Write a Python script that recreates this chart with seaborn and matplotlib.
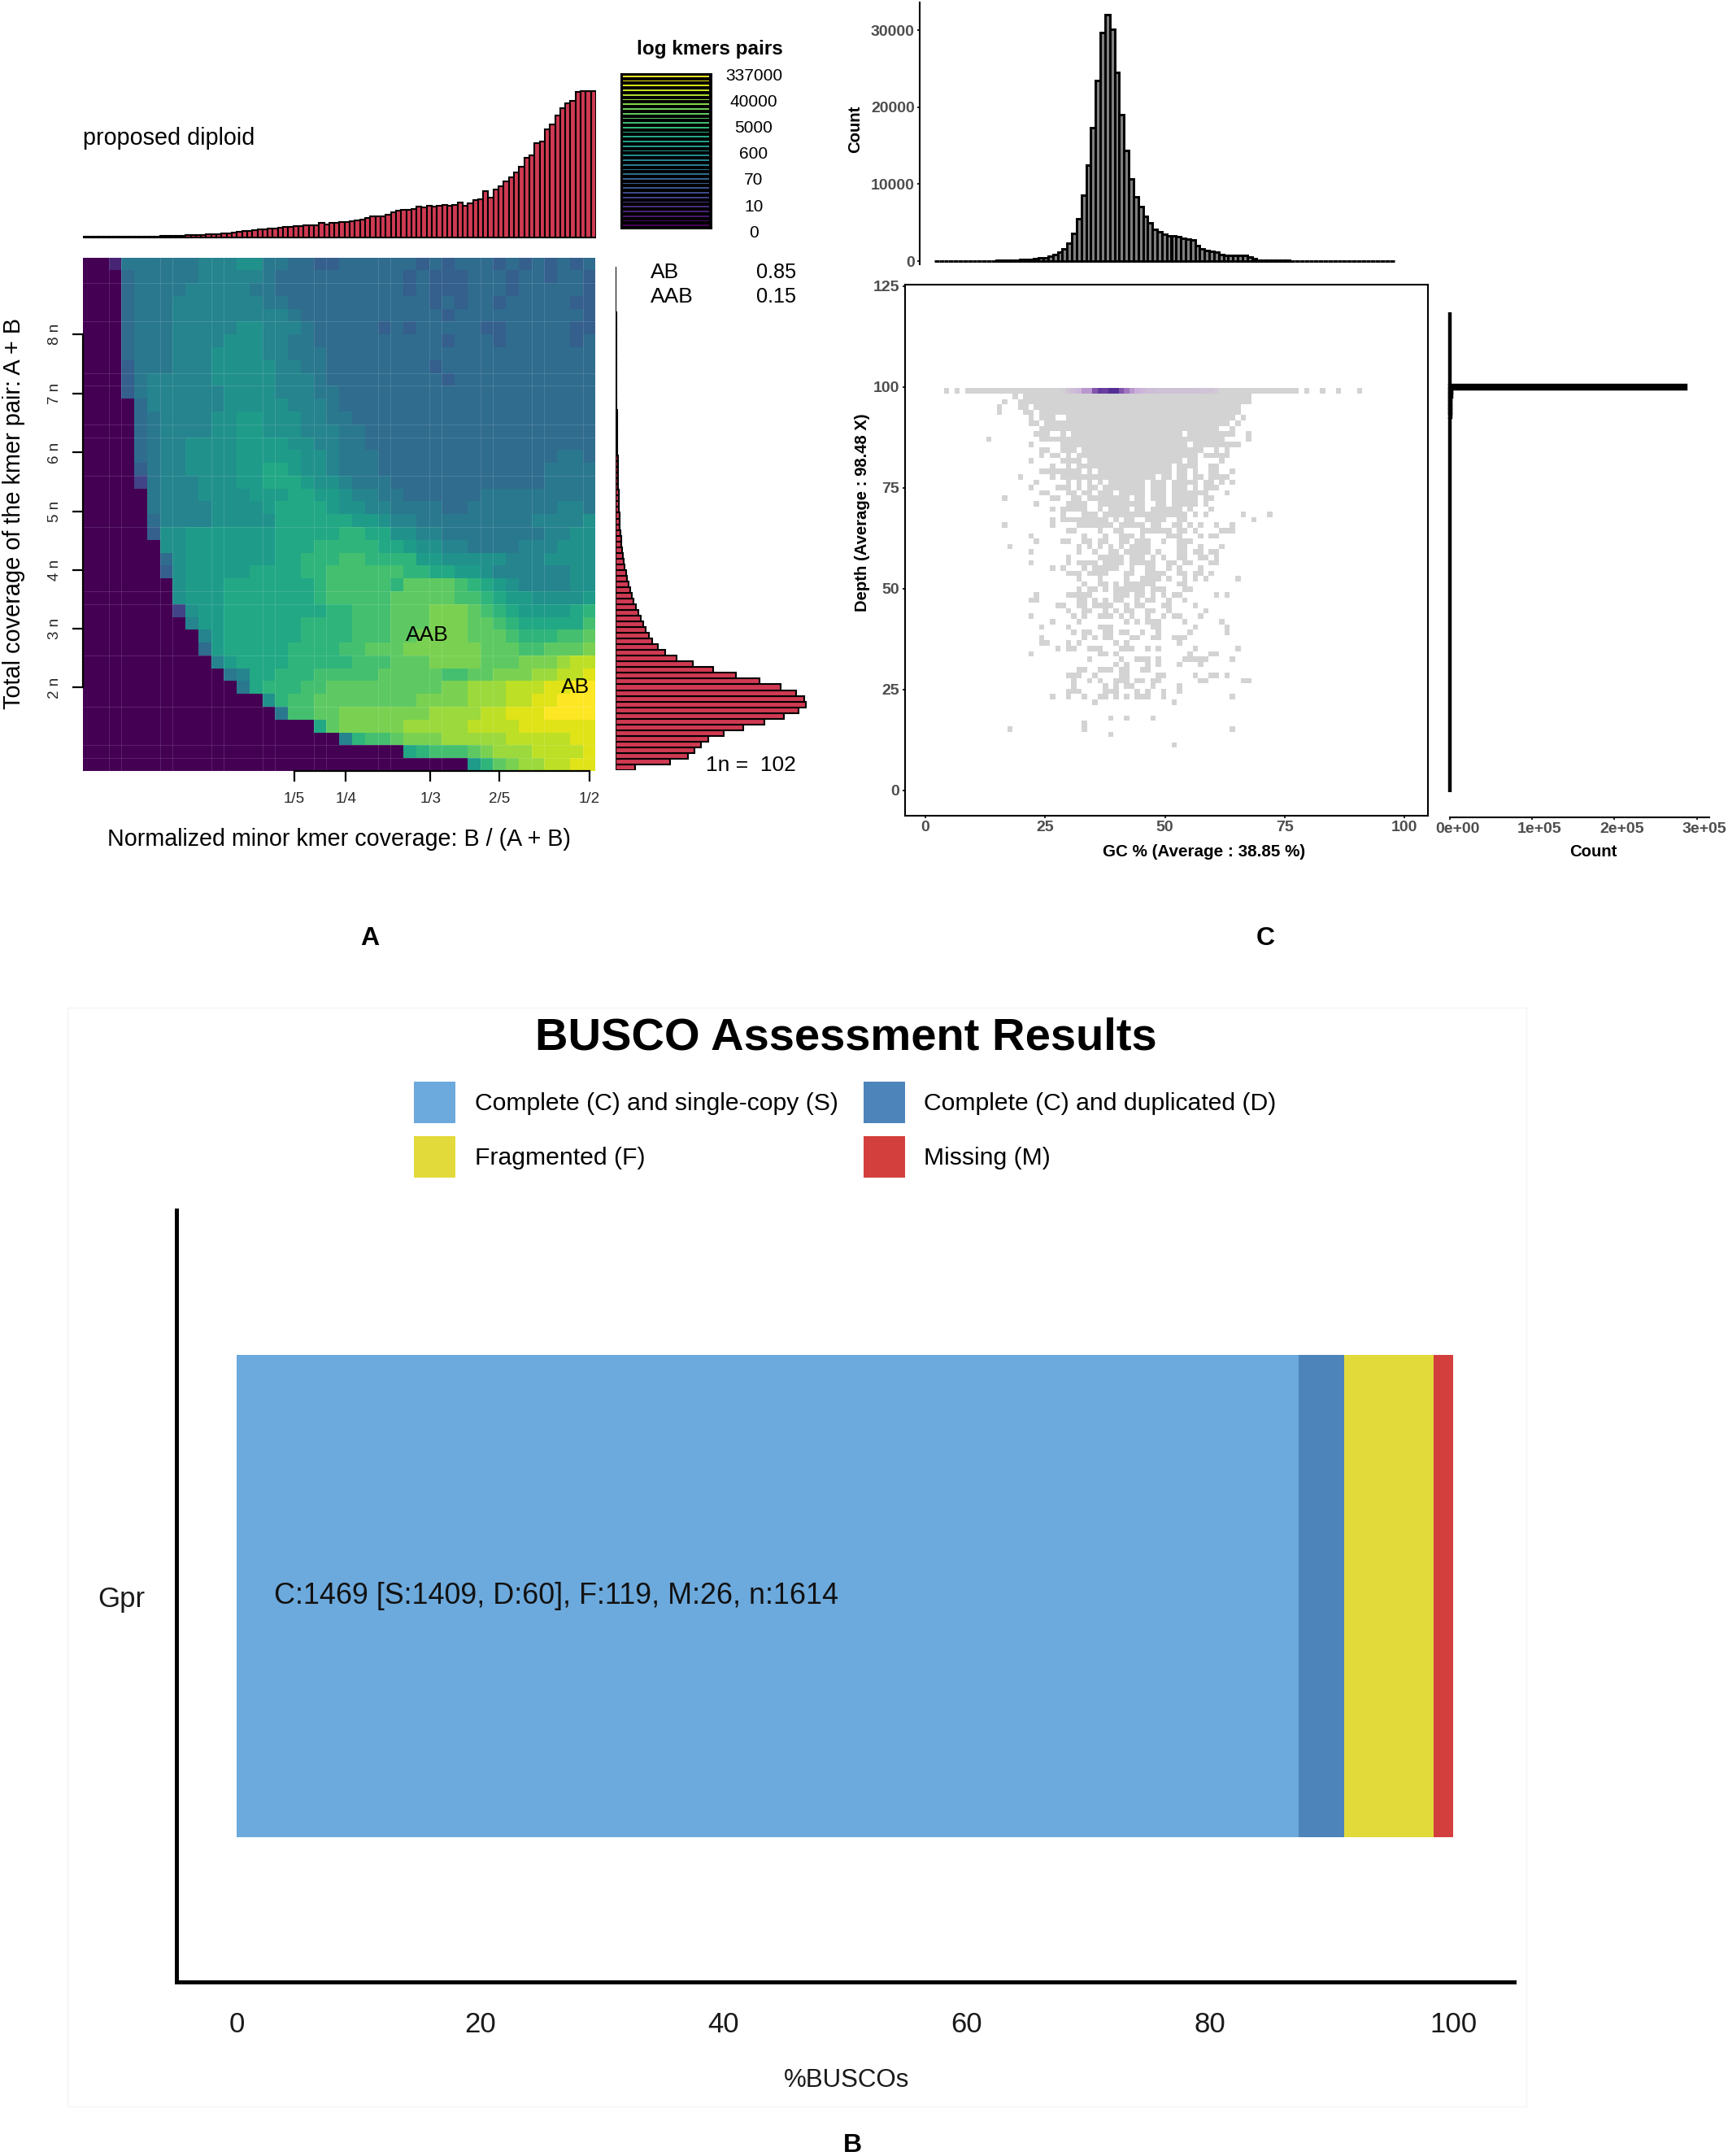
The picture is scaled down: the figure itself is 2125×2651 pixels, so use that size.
import numpy as np
import pandas as pd
import seaborn as sns
import matplotlib
matplotlib.use("Agg")
import matplotlib.pyplot as plt
from matplotlib.colors import LinearSegmentedColormap
from matplotlib.patches import Rectangle
from matplotlib.transforms import ScaledTranslation

# ---------- Panel A data ----------
LEVELS = "abcdefghijklmnopqrstu"   # a = bottom of viridis ... u = top (steps of 0.05)
smudge_rows = [
 "aaciiiiiij jjkkiihhgg hhhhhhghgh hhghghghgh",
 "aaahiiiiij jjjjihhhhh hhhhhghggg hhhghhghhg",
 "aaahiiiijj jjjiihhhhh hhhhhghggg hhhghhhhhg",
 "aaahiiijjj jjjjiihhhh hhhhhhhghg hhghhhhhgg",
 "aaahiiijjj jjjjjjihhh hhhhhhhhgh hhhhhhhhhg",
 "aaahiiijjj jjkkjjjihh hhhghghhhh hgghhhhhgg",
 "aaahiiijjj jkkkjjiihh hhhhhhhhgh hhghhhhhgh",
 "aaahiiijjj kkkkjjiiih hhhhhhhhhh hhhhhhhhhh",
 "aaagiiijjj kkkkkjjiih hhhhhhhghh hhhhhhhhhh",
 "aaagijjjjj kkkkkjjjih hhhhhhhhgh hhhhhhhhhh",
 "aaagijjjjj jkkkkjjjii hhhhhhhhhh hhhhhhhhhh",
 "aaaahjjjjj jkkkkkjjji hhhhhhhhhh hhhhhhhhhh",
 "aaaahijjjj kkllkkkjji ihhhhhhhhh hhhhhhhhhh",
 "aaaahijjjj kkllkkkjjj iihhhhhhhh hhhhhhhhhh",
 "aaaahijjkk kkllllkkjj iihhhhhhhh hhhhhhhhhh",
 "aaaahijjkk kklllllkkj iiihhhhhhh hhhhhhhiih",
 "aaaagijjkk kkllmmlkkj iiihhhhhhh hhhhhhiiii",
 "aaaaeijjjk kkllmmmlkk jiiihhhhhh hhhhhhiiii",
 "aaaaaijjjk kkklllmmll kjjiihhhhh hiiiiiiiii",
 "aaaaaijjjj kkkklmmmml kkjjiiiihh iiiiiiijji",
 "aaaaahjjjj kkkkkmmmmm mllkjjiiii iiiiijjjjk",
 "aaaaagkkll lllllmmmmm nnmmkkjjii iiiiiijjkk",
 "aaaaaakkll lllllmmmnn nnnmmlkkjj iiiijjjkkk",
 "aaaaaahkll lllllmmnnn oonnnnllkk kkkjjjkkkk",
 "aaaaaagkll lllmmmmnno ooooonnmml lkjjjjjjkk",
 "aaaaaaakll lmmmmmmmno oooonppppo nmlkjjjjkk",
 "aaaaaaakll lmmmmmmmno oooopppppo onmllkkkkl",
 "aaaaaaaekl lmmmmmmmmn nooopppqqq ponmllllmn",
 "aaaaaaaajl lmmmmmmnnn nooopppqqq pponmmmmmo",
 "aaaaaaaaaj lmmmmmmnnn noooppqqqq ppponnnoop",
 "aaaaaaaaah lmmmmmnnnn oopppqqqqq qpppoopppq",
 "aaaaaaaaaa jlmmmmnnnn nooopppqqq qpppqqqrss",
 "aaaaaaaaaa aijmmnnnoo ooopppppoo ppqqqrrsst",
 "aaaaaaaaaa aaimnnnoop ppppppppqq rrrsssttuu",
 "aaaaaaaaaa aaaaknoopp ppppppqqqq rrrssttuuu",
 "aaaaaaaaaa aaaaaioopp qqqqqqqrrr rsstttuuuu",
 "aaaaaaaaaa aaaaaaaamp qqqqqrrrrr sssstttttt",
 "aaaaaaaaaa aaaaaaaaaa jnoopqqqrr rrrssssstt",
 "aaaaaaaaaa aaaaaaaaaa aaaaamnooo pqrrrsssst",
 "aaaaaaaaaa aaaaaaaaaa aaaaaaaaaa lnpqrrsstt",
]
minor_cov_hist = [
 1,1,1,1,1,1,1,1,1,2, 2,2,2,3,3,4,4,4,5,6, 7,8,9,9,10,11,12,13,15,18,
 20,22,24,26,28,30,31,33,36,37, 38,40,41,43,44,45,52,47,52,53,
 55,56,59,62,64,70,76,78,76,84, 92,97,100,102,104,114,110,116,112,116,
 118,115,120,128,115,125,137,140,170,145, 175,187,205,222,238,260,292,302,347,352,
 397,417,448,475,495,503,537,538,539,540]
total_cov_hist = [
 71,200,266,291,313,340,398,470,549,620,673,700,696,665,607,529,444,358,283,225,183,154,
 135,121,111,100,92,82,73,66,58,52,48,42,37,33,30,27,24,21,19,16,14,13,
 13,12,11.5,11,10,9.5,9,8.5,8,7.5,7,6.5,6,5.5,5,5,4.5,4,4,3.5,3.5,3,3,2.5,2.5,2,2,2,
 1.5,1.5,1.5,1,1,1,1,1,.5,.5,.5,.5,.5,.5,.5,.5]
smudge_legend_labels = ["337000", "40000", "5000", "600", "70", "10", "0"]
minor_tick_labels = ["1/5", "1/4", "1/3", "2/5", "1/2"]
minor_tick_cells = [16.5, 20.5, 27.1, 32.5, 39.5]
n_tick_labels = ["2 n", "3 n", "4 n", "5 n", "6 n", "7 n", "8 n"]
n_tick_cells = [33.5, 28.9, 24.35, 19.8, 15.2, 10.6, 6.0]
grid_cols = [2,3,6,7,10,11,14,15,18,19,23,24,27,28,31,32,35,36,39]
grid_rows = [2,5,9,10,13,14,17,21,26,27,31,35,38,39]

# ---------- Panel C data ----------
gc_hist = [
 40,40,40,40,40,40,40,40,40,40,50,50,50,60,70,80,100,130,170,210,260,310,370,450,620,880,
 1130,1590,2360,3630,5540,8570,12500,17300,23450,29700,32000,30100,24500,19000,14350,10700,
 8360,7120,5820,5000,4130,3800,3530,3280,3250,3170,3000,2820,2750,2000,1590,1380,1270,1160,
 880,740,740,780,780,740,530,280,150,120,100,90,80,70,60,50,50,50,40,40,40,40,40,40,40,40,
 40,40,40,40,40,40,40,40,40,40,40]
depth_hist = [
 3,0,0,0,0,0,0,0,0,0,0,1,0,0,1,2,1,1,1,0,0,1,3,4,3,4,4,5,4,5,
 5,4,4,5,5,6,5,6,6,5,6,7,6,7,8,7,8,9,9,10,11,10,12,13,12,14,15,16,17,18,
 20,22,24,26,28,30,33,36,40,44,48,52,57,62,68,74,80,88,96,105,115,126,138,150,165,180,200,220,250,300,
 340,380,450,600,800,1000,1200,1400,1500,1500,287000,0,0,0,0,0,0,0,0,0,0,0,0,0,0,0,0,0,0]
depth_tick = [0, 25, 50, 75, 100, 125]
gc_tick = [0, 25, 50, 75, 100]
count_tick = [0, 100000, 200000, 300000]
count_tick_labels = ["0e+00", "1e+05", "2e+05", "3e+05"]
tile_rows = [
 "0,2,4-66,68,71,74,78","13,15-57","11,14-57","10,14,15,17-55","10,15,16,18-55",
 "16,18-20,23-54,56","16,17,19-53,55","18-51,54","17-19,22,24-44,46-54,57","8,18-52,57",
 "16,22-45,47-55","18,19,22-24,26-48,51,53","18,20,21,23,25-47,49-53","16,22-25,27-44,46,47,52",
 "20,23,25-42,44-47,50,51","18-25,27,29-42,44,45,47,50,51,54","14,20,22-39,41,42,44,45,47,48,50-53",
 "17,23,25,27,29,31-37,39-41,43-47,49,50,52,54","16,21-23,25,27,28,30-37,39-41,43-45,47,49-51",
 "18,19,23,24,26,27,29-31,33-37,39-41,43-49,53","11,20,21,24,25,27-34,36,37,39-41,43-47,49,50",
 "17,23-26,29-37,40,41,43-47,49","20,22-26,29,31-34,36,37,39-44,46,50","22,26-28,30-45,47,49,56,61",
 "20,22-30,32,34,35,38-41,44,45,58","11,20,25-31,33-37,39,40,43,44,46,48,51,54",
 "23,24,29,32,33,37,38,39-42,44,45,47,52-54","16,26,30,33-35,37,42-44,48,50,51",
 "17,22,23,26,27,29,30,33,34,36-38,41,44-46","12,25,27,29,31,33,35-38,44,45,48,52",
 "16,25,28,31,32,34-38,40,44,45,47,48,50,51","23,29-33,35-37,39,41,44,45,48,49,51",
 "16,23,25-28,30-33,35-39,42,43,45,46,50,51","20,22,26,28-32,35,38,39,42,44,48",
 "23-25,27-30,34,35,38-41,44,45,47,48,50","25,29,34,37-40,42,45,47,49,55",
 "26,29,30,32,34-39,44,45","25,27,28,30,32-37,39-41,45,46",
 "17,23-27,32-34,36,37,39,41,43,44,51,53","16,17,25,26,28,30,32,33,36,38,39,42,45",
 "21,22,25,26,28-31,34,36,37,41,42,47","23,26,27,30,32,34,35,38,39,42,49",
 "16,24,26,29-31,33,35,38,41,43,44,48","20,25,34,36,38-40,45,52","18,23,29-31,39,40,47,53",
 "24,26,27,30,31,33,34,37,40,46,53","18,26,28,30,31,35,36,39,40,43-45","18,19,23,25,32,34,44",
 "21,23,24,27-29,33-35,38,40,47,55","16,29,30,32,46,50,51","27,33,36-38,40,45-49,54",
 "32,34,38,40,44,48","25,26,29-31,33,34,37,38","23-25,28,33,34,40,41,47,50,51,53",
 "24,27,29,32-34,36,37,39,40,48,49,56,57","24,30,32,34,35,39,44","23-25,30-32,36,38,41,44",
 "20,23,26,29,30,32,34,36-38,41,54","28,43","","","31,34,39","26","12,26,54","31","","43"]
peak_row_shade = {22:.03,23:.10,24:.15,25:.20,26:.35,27:.35,28:.65,29:.85,30:.80,31:.95,32:.95,33:.65,
 34:.50,35:.35,36:.25,37:.20,38:.15,39:.15,40:.12,41:.12,42:.12,43:.12,44:.12,45:.12,46:.12,47:.12,
 48:.10,49:.10,50:.10,51:.06}

# ---------- Panel B data ----------
busco_labels = ["Complete (C) and single-copy (S)", "Complete (C) and duplicated (D)", "Fragmented (F)", "Missing (M)"]
busco_counts = [1409, 60, 119, 26]
busco_colors = ["#6ca9dc", "#4d84b9", "#e2da3a", "#d33f3d"]
busco_sample = ["Gpr"]
busco_ticks = [0, 20, 40, 60, 80, 100]
busco_note = "C:1469 [S:1409, D:60], F:119, M:26, n:1614"

# ---------- figure ----------
W, H = 2125, 2651
sns.set_theme(style="white")
plt.rcParams["font.family"] = ["Liberation Sans", "DejaVu Sans"]
fig = plt.figure(figsize=(W / 100, H / 100), dpi=100, facecolor="white")


def axes_px(x0, y0, x1, y1, **kw):
    return fig.add_axes([x0 / W, 1 - y1 / H, (x1 - x0) / W, (y1 - y0) / H], **kw)


over = axes_px(0, 0, W, H, zorder=10)
over.set_xlim(0, W)
over.set_ylim(H, 0)
over.axis("off")
over.patch.set_alpha(0)


def txt(x, y, s, size, **kw):
    kw.setdefault("ha", "center")
    kw.setdefault("va", "center")
    kw.setdefault("color", "black")
    return over.text(x, y + 1.5, s, fontsize=size, **kw)


RED = "#cf3a52"
# ---- A: heat map ----
smudge = np.array([[LEVELS.index(c) / 20 for c in r.replace(" ", "")] for r in smudge_rows])
ax = axes_px(102, 316.5, 732.5, 948)
sns.heatmap(pd.DataFrame(smudge), vmin=0, vmax=1, cmap="viridis", cbar=False, ax=ax,
            xticklabels=False, yticklabels=False)
for c in grid_cols:
    ax.axvline(c, color="white", lw=0.7, alpha=0.13)
for r in grid_rows:
    ax.axhline(r, color="white", lw=0.7, alpha=0.13)
for s in ax.spines.values():
    s.set_visible(False)
for side, bounds in (("left", (n_tick_cells[-1], n_tick_cells[0])), ("bottom", (minor_tick_cells[0], minor_tick_cells[-1]))):
    ax.spines[side].set_visible(True)
    ax.spines[side].set_bounds(*bounds)
    ax.spines[side].set_linewidth(1.6)
    ax.spines[side].set_color("black")
ax.set_xticks(minor_tick_cells)
ax.set_xticklabels(minor_tick_labels, fontsize=13.5)
ax.set_yticks(n_tick_cells)
ax.set_yticklabels(n_tick_labels, fontsize=13.5, rotation=90, va="center")
ax.tick_params(axis="both", length=9.4, width=1.6, color="black", pad=9, bottom=True, left=True)
txt(525, 780, "AAB", 19)
txt(708, 843, "AB", 19)
txt(417, 1030, "Normalized minor kmer coverage: B / (A + B)", 20.6)
txt(17.5, 630, "Total coverage of the kmer pair: A + B", 20.8, rotation=90)
txt(102, 168, "proposed diploid", 20.7, ha="left")
txt(800, 334, "AB", 19, ha="left")
txt(800, 364, "AAB", 19, ha="left")
txt(979, 334, "0.85", 18.2, ha="right")
txt(979, 364, "0.15", 18.2, ha="right")
txt(868, 940, "1n =  102", 19, ha="left")
txt(873, 59, "log kmers pairs", 17.5, fontweight="bold")
for ypx, lab in zip([92, 124, 156, 188, 220, 252.5, 285], smudge_legend_labels):
    txt(927, ypx, lab, 15)

# ---- A: marginal histograms ----
ax = axes_px(102, 105, 733, 294)
edges = np.arange(len(minor_cov_hist) + 1)
sns.histplot(x=edges[:-1] + .5, weights=minor_cov_hist, bins=list(edges), color=RED, alpha=1,
             edgecolor="black", linewidth=1.5, ax=ax)
ax.set_xlim(0, 100)
ax.set_ylim(-6.9, 560)
ax.axis("off")

ax = axes_px(757.3, 328, 1000, 947)
edges = np.arange(len(total_cov_hist) + 1)
sns.histplot(y=edges[:-1] + .5, weights=total_cov_hist, bins=list(edges), color=RED, alpha=1,
             edgecolor="black", linewidth=1.5, ax=ax)
ax.set_ylim(0, len(total_cov_hist))
ax.set_xlim(0, (1000 - 757.3) * 3)
ax.axis("off")

# ---- A: colour key ----
ax = axes_px(764, 91, 874, 280)
key = np.linspace(1, 0, 33).reshape(-1, 1)
sns.heatmap(key, vmin=0, vmax=1, cmap="viridis", cbar=False, linewidths=1.5, linecolor="black",
            xticklabels=False, yticklabels=False, ax=ax)
for s in ax.spines.values():
    s.set_visible(True)
    s.set_linewidth(2.2)
    s.set_color("black")

# ---- C: geometry ----
PX_GC, X0 = 5.89, 1138
PX_D, Y0 = 4.96, 972
gc_of = lambda p: (p - X0) / PX_GC
d_of = lambda p: (Y0 - p) / PX_D
BOLD = dict(fontweight="bold")
GREY = "#4d4d4d"
TICK_SIZE = 14

# ---- C: main tiles ----
ax = axes_px(1112.5, 350, 1756, 1003)
xs, ys, ws = [], [], []
DK, DR = 1.106, 1.33
for r, spec in enumerate(tile_rows):
    for run in filter(None, spec.split(",")):
        a, _, b = run.partition("-")
        for k in range(int(a), int(b or a) + 1):
            xs.append(4.41 + DK * k)
            ys.append(99.05 - DR * r)
            ws.append(max(peak_row_shade.get(k, 0), 0.002) if r == 0 else 0.002)
xedges = 4.41 - DK / 2 + DK * np.arange(-1, 82)
yedges = 99.05 + DR / 2 - DR * np.arange(70, -2, -1)
tile_cmap = LinearSegmentedColormap.from_list("tile", [(0, "#d3d3d3"), (.25, "#c9aed9"), (.7, "#7a4aa8"), (1, "#4c2a92")])
sns.histplot(x=xs, y=ys, weights=ws, bins=(list(xedges), list(yedges)), cmap=tile_cmap, vmin=0, vmax=1, ax=ax)
ax.set_xlim(gc_of(1112.5), gc_of(1756))
ax.set_ylim(d_of(1003), d_of(350))
for s in ax.spines.values():
    s.set_visible(True)
    s.set_linewidth(1.5)
    s.set_color("black")
ax.set_xticks(gc_tick)
ax.set_yticks(depth_tick)
ax.tick_params(axis="both", length=2.5, width=1.2, color="black", labelsize=TICK_SIZE, labelcolor=GREY, pad=2,
               bottom=True, left=True)
for lab in ax.get_xticklabels() + ax.get_yticklabels():
    lab.set_fontweight("bold")
txt(1481, 1046, "GC % (Average : 38.85 %)", 14.9, **BOLD)
txt(1061, 629, "Depth (Average : 98.48 X)", 14.6, rotation=90, **BOLD)

# ---- C: top histogram ----
ax = axes_px(1131, 3, 1756, 325)
edges = gc_of(1149) + (5.83 / PX_GC) * np.arange(len(gc_hist) + 1)
sns.histplot(x=(edges[:-1] + edges[1:]) / 2, weights=gc_hist, bins=list(edges), color="#7f7f7f", alpha=1,
             edgecolor="black", linewidth=2.1, ax=ax)
ax.set_xlim(gc_of(1131), gc_of(1756))
ax.set_ylim(-(325 - 321) * 10000 / 94.6, (321 - 3) * 10000 / 94.6)
sns.despine(ax=ax, bottom=True)
ax.spines["left"].set_linewidth(1.5)
ax.spines["left"].set_color("black")
ax.set_xticks([])
ax.set_yticks([0, 10000, 20000, 30000])
ax.tick_params(axis="y", length=2.5, width=1.2, color="black", labelsize=TICK_SIZE, labelcolor=GREY, pad=2, left=True)
for lab in ax.get_yticklabels():
    lab.set_fontweight("bold")
ax.set_ylabel("")
txt(1052, 157, "Count", 14.6, rotation=90, **BOLD)

# ---- C: right histogram ----
PX_C = 101.2 / 100000
ax = axes_px(1770, 350, 2102, 1005)
edges = np.arange(len(depth_hist) + 1) - 0.5
sns.histplot(y=edges[:-1] + .5, weights=depth_hist, bins=list(edges), color="#7f7f7f", alpha=1,
             edgecolor="black", linewidth=3.2, ax=ax)
ax.set_xlim(-(1783 - 1770) / PX_C, (2102 - 1783) / PX_C)
ax.set_ylim((Y0 - 1005) / PX_D, d_of(350))
sns.despine(ax=ax, left=True)
ax.spines["bottom"].set_bounds(0, (2102 - 1783) / PX_C)
ax.spines["bottom"].set_linewidth(1.5)
ax.spines["bottom"].set_color("black")
ax.set_yticks([])
ax.set_xticks(count_tick)
ax.set_xticklabels(count_tick_labels, fontweight="bold")
ax.tick_params(axis="x", length=2.5, width=1.2, color="black", labelsize=TICK_SIZE, labelcolor=GREY, pad=2, bottom=True)
for lab in ax.get_xticklabels():
    lab.set_transform(lab.get_transform() + ScaledTranslation(0.09, 0, fig.dpi_scale_trans))
ax.set_xlabel("")
txt(1959, 1046, "Count", 14.6, **BOLD)

# ---- panel letters ----
txt(455, 1152, "A", 23, **BOLD)
txt(1556, 1152, "C", 23, **BOLD)
txt(1048, 2636, "B", 23, **BOLD)

# ---- B ----
over.add_patch(Rectangle((83, 1239), 1794, 1351, fill=False, edgecolor="#f4f4f4", lw=1))
txt(1040, 1275, "BUSCO Assessment Results", 40.4, **BOLD)
for (sx, tx, sy), lab, col in zip([(509, 584, 1330), (1062, 1136, 1330), (509, 584, 1397), (1062, 1136, 1397)],
                                  busco_labels, busco_colors):
    over.add_patch(Rectangle((sx, sy), 51, 51, color=col, lw=0))
    txt(tx, sy + 25.5, lab, 21.7, ha="left")

ax = axes_px(217, 1488, 1862, 2437)
pct = 100 * np.array(busco_counts) / sum(busco_counts)
cum = np.cumsum(pct)
for val, col in zip(cum[::-1], busco_colors[::-1]):
    sns.barplot(x=[val], y=busco_sample, orient="h", color=col, saturation=1, width=1.0,
                edgecolor=col, linewidth=0, ax=ax)
PX_B = 14.96
ax.set_xlim((217 - 291) / PX_B, (1862 - 291) / PX_B)
ax.set_ylim(0.80, -0.80)
sns.despine(ax=ax)
for side in ("left", "bottom"):
    ax.spines[side].set_linewidth(3.6)
    ax.spines[side].set_color("black")
ax.set_xticks(busco_ticks)
ax.tick_params(axis="x", length=0, labelsize=25, pad=26, labelcolor="#1a1a1a")
ax.tick_params(axis="y", length=0, labelsize=25, pad=28, labelcolor="#1a1a1a")
ax.set_xlabel("")
ax.set_ylabel("")
ax.text(3.05, 0, busco_note, fontsize=25.8, va="center", ha="left", color="#111111")
txt(1041, 2557, "%BUSCOs", 22.5, color="#1a1a1a")

fig.savefig("out.png", dpi=100, facecolor="white")
